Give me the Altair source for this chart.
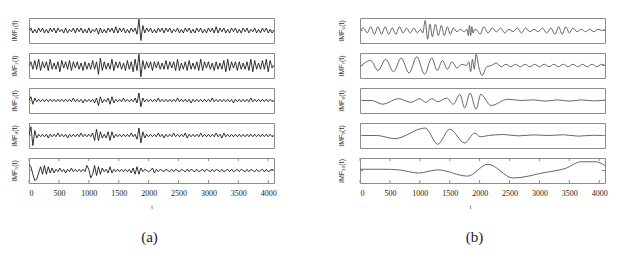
import altair as alt
import pandas as pd

T_MAX = 4096
X_TICKS = [0, 500, 1000, 1500, 2000, 2500, 3000, 3500, 4000]
Y_TICKS = [0]

LEFT_LABELS = ["IMF\u2081(t)", "IMF\u2082(t)", "IMF\u2083(t)", "IMF\u2084(t)", "IMF\u2085(t)"]
RIGHT_LABELS = ["IMF\u2086(t)", "IMF\u2087(t)", "IMF\u2088(t)", "IMF\u2089(t)", "IMF\u2081\u2080(t)"]

# ---- left column: sampled values (uniform sampling over 0..4096) ----
IMF1 = [0, 2, -2, 1, -2, 2, -1, 2, -2, 1,
        -2, 2, -1, 2, -2, 2, -1, 1, -2, 2,
        -2, 1, -1, 2, -2, 2, -1, 2, -2, 1,
        -2, 2, -2, 1, -1, 2, -3, 2, -2, 1,
        -2, 2, -1, 2, -2, 3, -2, 2, -1, 2,
        -2, 1, -2, 2, -1, 2, -3, 9, -8, 4,
        -2, 2, -1, 2, -2, 1, -2, 2, -1, 2,
        -2, 2, -1, 2, -2, 1, -1, 2, -2, 1,
        -2, 2, -1, 2, -2, 1, -2, 2, -1, 2,
        -2, 1, -2, 2, -1, 2, -2, 3, -2, 2,
        -1, 2, -2, 1, -2, 2, -1, 2, -2, 1,
        -2, 2, -1, 2, -2, 1, -1, 2, -2, 1,
        -2, 2, -1, 2, -2, 1, -2, 0]
IMF2 = [0, 3, -3, 4, -3, 5, -4, 3, -2, 3,
        -4, 5, -3, 2, -3, 3, -5, 4, -2, 3,
        -3, 4, -4, 3, -2, 3, -3, 2, -4, 3,
        -3, 2, -3, 4, -3, 3, -7, 6, -4, 3,
        -3, 2, -3, 5, -4, 3, -2, 3, -3, 2,
        -4, 4, -3, 3, -5, 5, -4, 9, -9, 4,
        -3, 3, -2, 3, -4, 3, -2, 3, -3, 2,
        -3, 4, -3, 3, -2, 3, -4, 5, -4, 2,
        -3, 3, -4, 4, -3, 2, -3, 3, -4, 5,
        -4, 3, -2, 3, -3, 2, -4, 3, -3, 2,
        -3, 4, -5, 5, -4, 3, -2, 3, -4, 3,
        -3, 2, -3, 3, -4, 5, -5, 4, -3, 2,
        -3, 4, -3, 5, -5, 4, -2, 0]
IMF3 = [0, 3, -3, 2, -1, 1, -1, 1, -1, 1,
        -1, 1, -1, 1, -1, 1, -1, 1, -1, 1,
        -1, 1, -1, 2, -1, 1, -1, 1, -2, 1,
        -1, 1, -1, 1, -2, 2, -4, 3, -2, 1,
        -1, 2, -3, 3, -2, 1, -1, 1, -1, 2,
        -1, 1, -1, 1, -1, 2, -2, 6, -5, 2,
        -1, 1, -1, 1, -1, 1, -1, 2, -1, 1,
        -1, 1, -1, 1, -1, 1, -1, 2, -1, 1,
        -1, 1, -1, 1, -2, 1, -1, 1, -1, 1,
        -1, 1, -1, 1, -1, 2, -1, 1, -1, 1,
        -1, 1, -1, 1, -1, 1, -2, 1, -1, 1,
        -1, 1, -1, 1, -1, 2, -1, 1, -1, 1,
        -1, 1, -1, 1, -1, 1, -1, 0]
IMF4 = [0, 7, -8, 4, -2, 1, -1, 1, -1, 1,
        -2, 1, -1, 1, -1, 2, -1, 1, -1, 1,
        -2, 1, -1, 1, -1, 1, -1, 2, -1, 1,
        -1, 1, -1, 2, -4, 5, -4, 3, -2, 1,
        -2, 3, -4, 3, -2, 1, -1, 1, -1, 1,
        -1, 1, -1, 2, -1, 1, -3, 6, -6, 3,
        -2, 1, -1, 1, -1, 1, -1, 2, -1, 1,
        -2, 1, -1, 1, -1, 2, -1, 1, -1, 1,
        -1, 2, -2, 1, -1, 1, -1, 1, -1, 2,
        -1, 1, -1, 1, -1, 1, -1, 2, -1, 1,
        -2, 2, -1, 1, -1, 1, -1, 1, -1, 1,
        -1, 1, -1, 1, -1, 1, -1, 1, -1, 1,
        -1, 1, -1, 1, -1, 1, -1, 0]
IMF5 = [5, 3, -3, -8, -7, -2, 3, -3, 4, -3,
        3, -2, 2, -2, 1, -1, 2, -1, 1, -2,
        1, -1, 2, -1, 1, -1, 1, -1, 1, -1,
        4, 1, -6, -3, 4, -4, 3, -3, 2, -1,
        1, -2, 3, -2, 1, -1, 1, -1, 1, -1,
        1, -1, 1, -2, 2, -3, 3, -3, 2, -1,
        1, 0, -1, 0, 2, -2, 1, -1, 1, 0,
        -1, 1, 0, -1, 1, -1, 1, 0, -1, 1,
        0, -1, 1, -1, 1, 0, -1, 1, -1, 0,
        1, -1, 1, 0, -1, 1, -1, 1, 0, -1,
        1, -1, 0, 1, -1, 1, -1, 0, 1, -1,
        1, 0, -1, 1, -1, 1, 0, -1, 1, -1,
        0, 1, -1, 1, -1, 0, 1, 0]

# ---- right column: extrema (t, value) ----
IMF6_T = [0, 60, 120, 180, 240, 300, 360, 420, 480, 540,
          600, 660, 720, 780, 840, 900, 960, 1010, 1050, 1090,
          1130, 1170, 1210, 1260, 1310, 1360, 1410, 1460, 1510, 1560,
          1620, 1680, 1740, 1790, 1810, 1830, 1850, 1870, 1890, 1920,
          1960, 2010, 2070, 2140, 2210, 2280, 2350, 2420, 2490, 2560,
          2630, 2700, 2770, 2840, 2910, 2980, 3050, 3120, 3190, 3260,
          3320, 3380, 3440, 3500, 3560, 3630, 3700, 3770, 3840, 3910,
          3980, 4050, 4096]
IMF6_V = [0, 2, -2, 3, -3, 3, -3, 3, -3, 2,
          -3, 3, -2, 2, -2, 2, -2, 1, -2, 8,
          -7, 5, -5, 5, -4, 4, -4, 3, -3, 2,
          -1, 1, -1, 1, -4, 4, -4, 3, -2, 1,
          0, -3, 3, -2, 2, -1, 2, -2, 1, -1,
          2, -2, 2, -1, 1, -1, 2, -2, 2, -3,
          3, -3, 3, -2, 2, -1, 1, -1, 1, -1,
          1, 0, 1]
IMF7_T = [0, 180, 300, 430, 560, 690, 820, 950, 1080, 1200,
          1290, 1380, 1460, 1540, 1620, 1700, 1780, 1820, 1850, 1880,
          1910, 1940, 1990, 2040, 2120, 2200, 2280, 2360, 2440, 2520,
          2600, 2680, 2760, 2840, 2920, 3000, 3080, 3160, 3240, 3320,
          3400, 3480, 3560, 3640, 3720, 3800, 3880, 3960, 4040, 4096]
IMF7_V = [-1, 4, -4, 5, -5, 6, -6, 7, -7, 6,
          -4, 4, -3, 3, -2, 1, 0, 3, -5, 5,
          -3, 9, -2, -8, -1, 0, 2, -1, 1, -1,
          1, -1, 1, -1, 1, -1, 1, -1, 1, -1,
          1, -1, 1, -1, 1, -1, 1, -1, 1, 0]
IMF8_T = [0, 200, 380, 640, 850, 1000, 1100, 1200, 1300, 1450,
          1560, 1670, 1750, 1840, 1940, 2020, 2190, 2470, 2700, 2900,
          3100, 3300, 3500, 3700, 3900, 4096]
IMF8_V = [0, 0, -3, 1.5, -1.5, 1.5, -1.5, 1.5, -1, 2,
          -3, 5, -6, 6, -7, 5, -4, 1, 0, 0.5,
          -0.5, 0.5, -0.5, 0.5, -0.3, 0.3]
IMF9_T = [0, 280, 580, 1090, 1300, 1500, 1750, 1920, 2010, 2150,
          2400, 2650, 2900, 3150, 3400, 3650, 3900, 4096]
IMF9_V = [0, 0, -2.5, 6, -7, 5, -6, 2, -1, 0,
          0.8, -0.3, 0.5, 0, 0.6, -0.5, 0.2, 0]
IMF10_T = [0, 400, 650, 980, 1300, 1800, 2140, 2560, 3090, 3430, 3700, 3930, 4096]
IMF10_V = [1, 1, 0.5, -2, 0.5, -4.5, 5, -6, -1.6, 1.6, 7, 7, 4]

LEFT_SERIES = [IMF1, IMF2, IMF3, IMF4, IMF5]
RIGHT_SERIES = [(IMF6_T, IMF6_V), (IMF7_T, IMF7_V), (IMF8_T, IMF8_V),
                (IMF9_T, IMF9_V), (IMF10_T, IMF10_V)]

FRAME = "#8c8c8c"
TEXT = "#222222"
W, H = 245, 25

xs = alt.Scale(domain=[0, T_MAX], nice=False, zero=False)
ys = alt.Scale(domain=[-10, 10], nice=False, zero=False)


def uniform_df(vals):
    n = len(vals)
    return pd.DataFrame({"t": [i * T_MAX / (n - 1) for i in range(n)], "v": vals})


def panel(df, label, bottom, color, sw, interp, tpad, caption=None, cap_dx=0, t_x=None):
    if bottom:
        xaxis_kw = dict(values=X_TICKS, labels=True, ticks=False, domain=False, grid=False,
                        title="t", labelFont="Liberation Serif", labelFontSize=8,
                        labelPadding=6, labelColor=TEXT, format="d",
                        titleFont="Liberation Serif", titleFontSize=6,
                        titleFontWeight="normal", titlePadding=6, titleColor=TEXT)
        if t_x is not None:
            xaxis_kw["titleX"] = t_x
        xaxis = alt.Axis(**xaxis_kw)
    else:
        xaxis = None
    yaxis = alt.Axis(title=label, labels=False, ticks=False, domain=False, grid=False,
                     titleFont="Liberation Sans", titleFontSize=7, titleFontWeight="normal",
                     titleColor="#333333", titlePadding=tpad)
    line = alt.Chart(df).mark_line(color=color, strokeWidth=sw, interpolate=interp, clip=True).encode(
        x=alt.X("t:Q", scale=xs, axis=xaxis),
        y=alt.Y("v:Q", scale=ys, axis=yaxis),
    )
    ydf = pd.DataFrame({"v": Y_TICKS})
    ytl = alt.Chart(ydf).mark_rule(color=FRAME, strokeWidth=1).encode(
        y=alt.Y("v:Q", scale=ys, axis=yaxis), x=alt.value(0), x2=alt.value(3))
    ytr = alt.Chart(ydf).mark_rule(color=FRAME, strokeWidth=1).encode(
        y=alt.Y("v:Q", scale=ys, axis=yaxis), x=alt.value(W - 3), x2=alt.value(W))
    layers = [line, ytl, ytr]
    if bottom:
        xdf = pd.DataFrame({"t": X_TICKS})
        xt_top = alt.Chart(xdf).mark_rule(color=FRAME, strokeWidth=1).encode(
            x=alt.X("t:Q", scale=xs, axis=xaxis), y=alt.value(0), y2=alt.value(3))
        xt_bot = alt.Chart(xdf).mark_rule(color=FRAME, strokeWidth=1).encode(
            x=alt.X("t:Q", scale=xs, axis=xaxis), y=alt.value(H - 3), y2=alt.value(H))
        layers += [xt_top, xt_bot]
    props = dict(width=W, height=H)
    if caption:
        props["title"] = alt.TitleParams(caption, orient="bottom", anchor="middle",
                                         font="Liberation Serif", fontSize=15,
                                         fontWeight="normal", color="#1a1a2a",
                                         offset=21, dx=cap_dx)
    return alt.layer(*layers).properties(**props)


left_panels = []
for i, (vals, lab) in enumerate(zip(LEFT_SERIES, LEFT_LABELS)):
    b = i == 4
    left_panels.append(panel(uniform_df(vals), lab, b, "#111111", 0.85, "linear", 12,
                             caption="(a)" if b else None, cap_dx=-2))

right_panels = []
for i, ((tt, vv), lab) in enumerate(zip(RIGHT_SERIES, RIGHT_LABELS)):
    assert len(tt) == len(vv)
    b = i == 4
    right_panels.append(panel(pd.DataFrame({"t": tt, "v": vv}), lab, b, "#555555", 0.9,
                              "monotone", 16, caption="(b)" if b else None, cap_dx=-8,
                              t_x=110 if b else None))

left = alt.vconcat(*left_panels, spacing=8)
right = alt.vconcat(*right_panels, spacing=8)

chart = alt.hconcat(left, right, spacing=59).properties(
    padding={"left": 9, "top": 17, "right": 0, "bottom": 0},
    background="white",
).configure_view(stroke=FRAME, strokeWidth=1).configure_axis(
    labelColor=TEXT, titleColor=TEXT
)

chart.save("out.html", embed_options={"renderer": "svg", "actions": False})
